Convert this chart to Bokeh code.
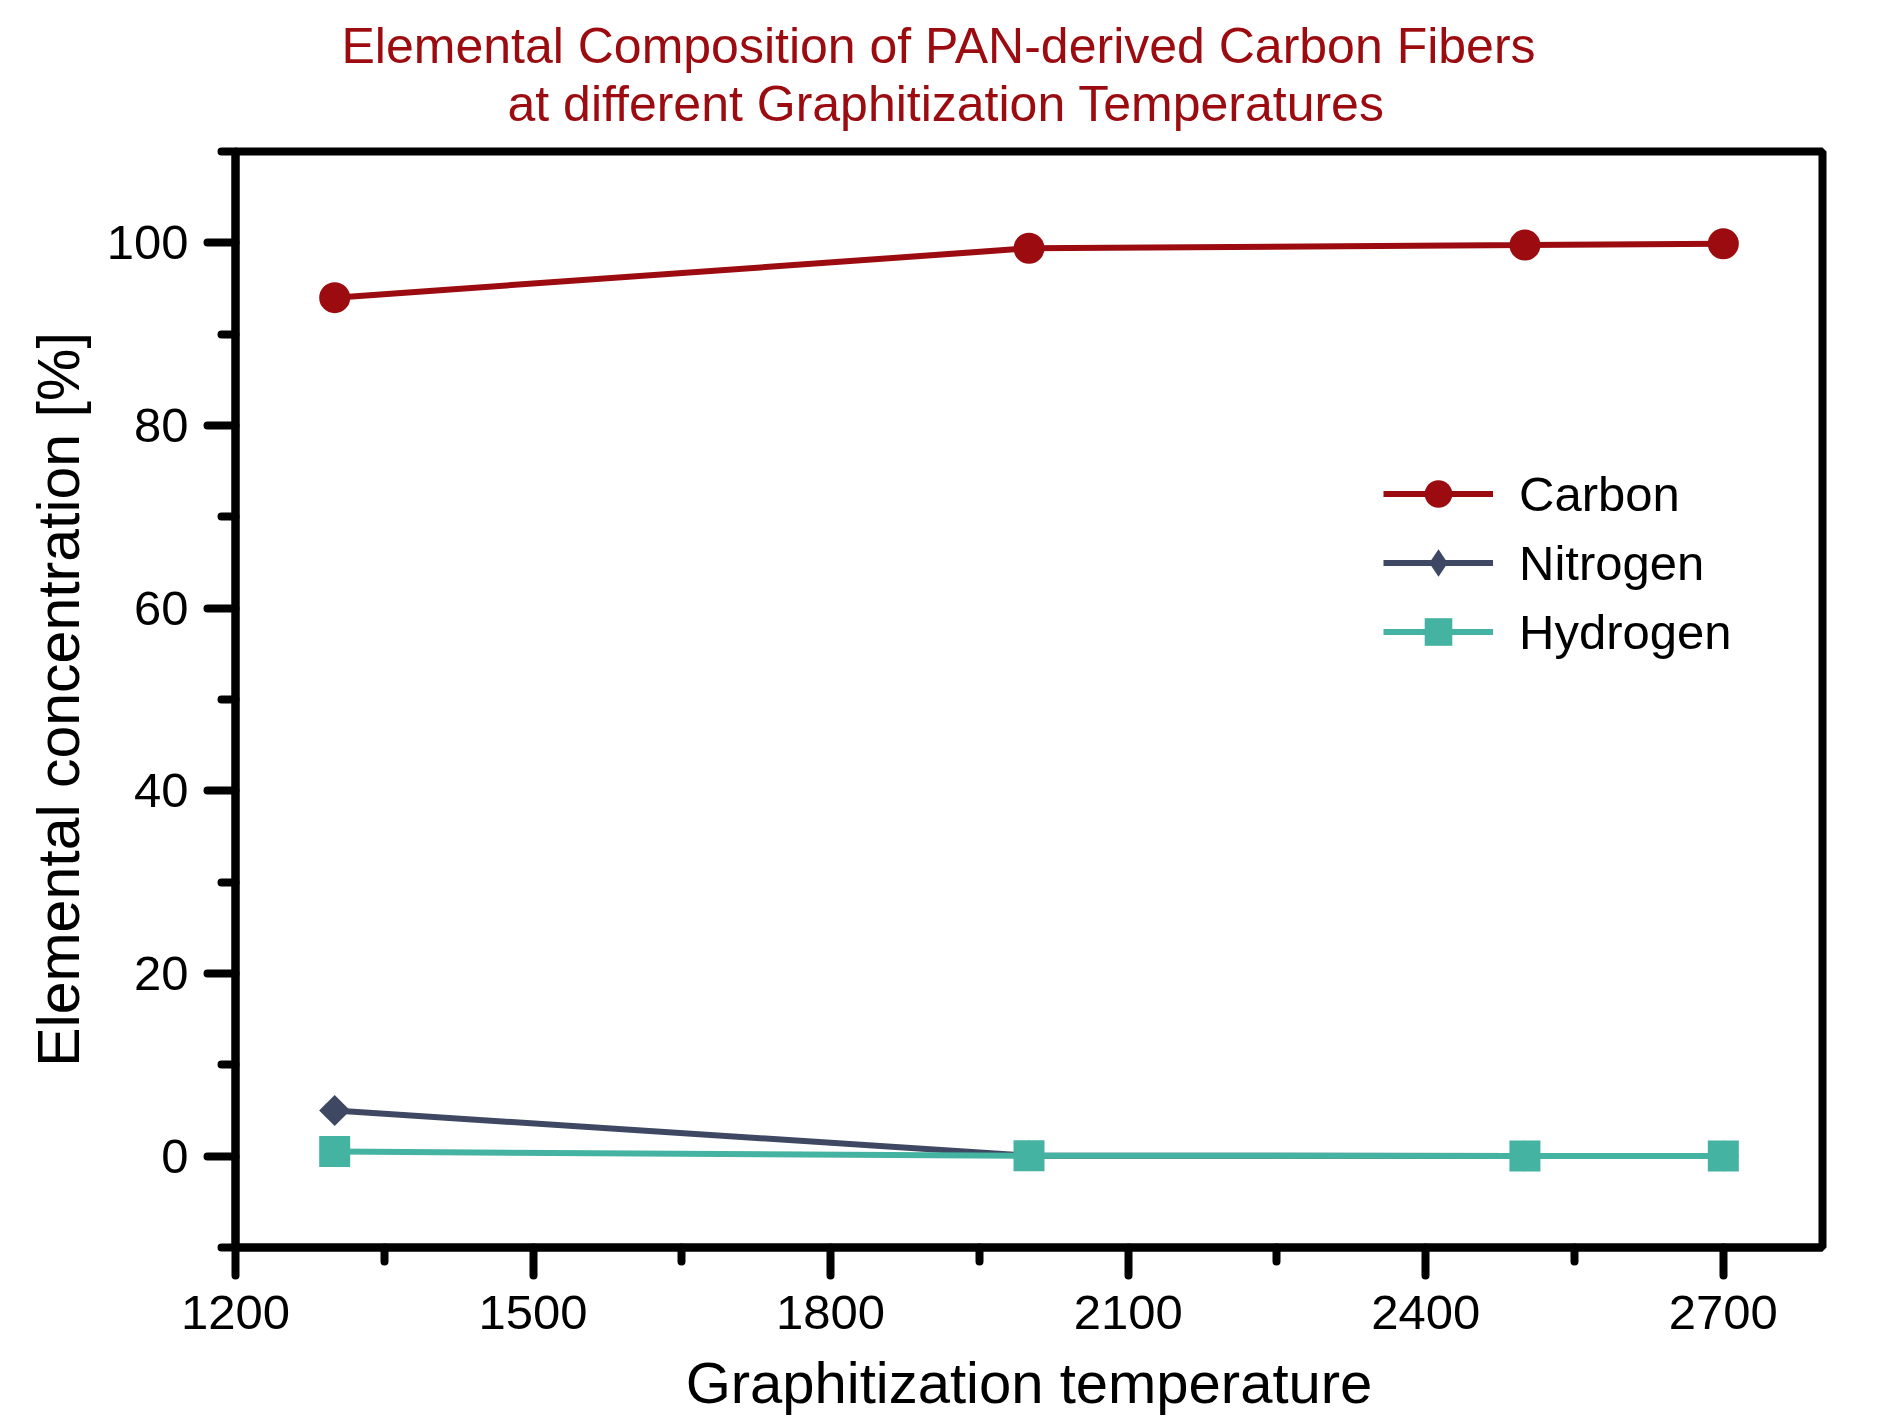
from bokeh.plotting import figure
from bokeh.models import Range1d, FixedTicker, Legend, LegendItem, Title
from bokeh.embed import file_html
from bokeh.resources import INLINE
import numpy as np

# ---- data ----
temperatures = [1300, 2000, 2500, 2700]
carbon = [94.0, 99.4, 99.75, 99.9]
nitrogen = [5.0, 0.05, 0.02, 0.02]
hydrogen = [0.5, 0.05, 0.02, 0.01]

x_major = [1200, 1500, 1800, 2100, 2400, 2700]
x_minor = [1350, 1650, 1950, 2250, 2550]
y_major = [0, 20, 40, 60, 80, 100]
y_minor = [-10, 10, 30, 50, 70, 90, 110]

title_line1 = "Elemental Composition of PAN-derived Carbon Fibers"
title_line2 = "at different Graphitization Temperatures"
x_label = "Graphitization temperature"
y_label = "Elemental concentration [%]"

C_RED = "#9b0b10"
C_NAVY = "#3e4862"
C_TEAL = "#45b3a2"
FONT = "Liberation Sans"

p = figure(width=1880, height=1417, output_backend="svg", toolbar_location=None,
           x_range=Range1d(1200, 2800), y_range=Range1d(-10, 110),
           min_border_left=235, min_border_right=58, min_border_top=151, min_border_bottom=170)
p.background_fill_color = "white"
p.border_fill_color = "white"
p.grid.visible = False
p.outline_line_color = "black"
p.outline_line_width = 8
p.outline_line_alpha = 1.0

for ax in (p.xaxis[0], p.yaxis[0]):
    ax.axis_line_width = 8
    ax.axis_line_color = "black"
    ax.major_tick_line_width = 8
    ax.minor_tick_line_width = 8
    ax.major_tick_line_cap = "round"
    ax.minor_tick_line_cap = "round"
    ax.major_tick_line_color = "black"
    ax.minor_tick_line_color = "black"
    ax.major_tick_in = 0
    ax.minor_tick_in = 0
    ax.major_tick_out = 28
    ax.minor_tick_out = 14
    ax.major_label_text_font = FONT
    ax.major_label_text_font_size = "49px"
    ax.major_label_text_color = "black"
    ax.axis_label_text_font = FONT
    ax.axis_label_text_font_style = "normal"
    ax.axis_label_text_color = "black"

p.xaxis.ticker = FixedTicker(ticks=x_major, minor_ticks=x_minor)
p.yaxis.ticker = FixedTicker(ticks=y_major, minor_ticks=y_minor)
p.xaxis.axis_label = x_label
p.yaxis.axis_label = y_label
p.xaxis.axis_label_text_font_size = "58px"
p.yaxis.axis_label_text_font_size = "59px"
p.xaxis.major_label_standoff = 20
p.xaxis.axis_label_standoff = 18
p.yaxis.major_label_standoff = 19
p.yaxis.axis_label_standoff = 12

# ---- series ----
c_line = p.line(temperatures, carbon, line_color=C_RED, line_width=6)
c_pts = p.scatter(temperatures, carbon, marker="circle", size=31, fill_color=C_RED, line_color=C_RED, line_width=0)

n_line = p.line(temperatures, nitrogen, line_color=C_NAVY, line_width=6)
n_pts = p.scatter(temperatures, nitrogen, marker="square", angle=np.pi / 4, size=22,
                  fill_color=C_NAVY, line_color=C_NAVY, line_width=0)
n_leg = p.scatter(temperatures, nitrogen, marker="diamond", size=31,
                  fill_color=C_NAVY, line_color=C_NAVY, line_width=0, visible=False)

h_line = p.line(temperatures, hydrogen, line_color=C_TEAL, line_width=6)
h_pts = p.scatter(temperatures, hydrogen, marker="square", size=31, fill_color=C_TEAL, line_color=C_TEAL, line_width=0)

legend = Legend(items=[
    LegendItem(label="Carbon", renderers=[c_line, c_pts]),
    LegendItem(label="Nitrogen", renderers=[n_line, n_leg]),
    LegendItem(label="Hydrogen", renderers=[h_line, h_pts]),
], location=(1148, 581), glyph_width=110, glyph_height=69, label_height=69, spacing=0,
    label_standoff=26, label_text_font=FONT, label_text_font_size="49px", label_text_color="black",
    padding=0, margin=0, border_line_color=None, background_fill_alpha=0)
p.add_layout(legend)

t2 = Title(text=title_line2, align="left", offset=272, text_font=FONT, text_font_size="50px",
           text_font_style="normal", text_color=C_RED, standoff=39)
t1 = Title(text=title_line1, align="left", offset=106, text_font=FONT, text_font_size="50px",
           text_font_style="normal", text_color=C_RED, standoff=-39)
p.add_layout(t2, "above")
p.add_layout(t1, "above")

open("out.html", "w").write(file_html(p, INLINE))
